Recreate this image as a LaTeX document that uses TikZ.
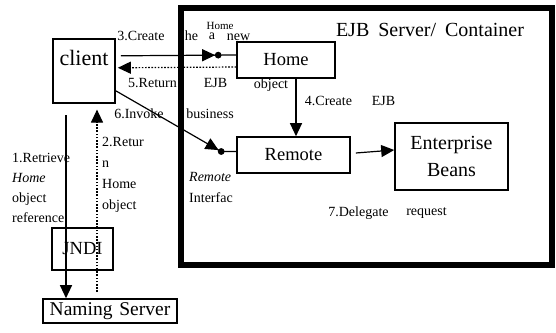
\documentclass[tikz,border=0pt]{standalone}
\usepackage{fontspec}
\setmainfont{Liberation Serif}
\usetikzlibrary{arrows.meta,decorations.markings,calc}

\begin{document}
\begin{tikzpicture}[x=1pt,y=-1pt,
  box/.style={draw, line width=1.6pt, inner sep=0pt},
  lbl/.style={font=\fontsize{14}{20.5}\selectfont, inner sep=0pt, align=left},
  conn/.style={line width=1.2pt},
  tip/.style={-{Triangle[length=13pt,width=12pt]}},
  dots/.style={dash pattern=on 1.6pt off 1.6pt},
  headdot/.style 2 args={postaction=decorate, decoration={markings,
      mark=at position #1 with {\arrow{Triangle[length=13pt,width=12pt]}},
      mark=at position #2 with {\fill circle (3.4pt);}}}
]
\useasboundingbox (0,0) rectangle (556,332);

% EJB container
\node[draw, line width=6pt, minimum width=371pt, minimum height=257pt, inner sep=0pt]
  (container) at (366.5,136.5) {};
\node[inner sep=0pt, font=\fontsize{20}{24}\selectfont] (ctitle) at (430,30)
  {EJB\hspace{0.45em}Server/ \hspace{0.2em}Container};

% boxes
\node[box, anchor=north, minimum width=62pt, text height=27pt, text depth=37pt,
  font=\fontsize{22}{26}\selectfont] (client) at (84,38) {client};
\node[box, minimum width=98pt, minimum height=36pt, font=\fontsize{18.5}{22}\selectfont]
  (home) at (286,60) {Home};
\node[box, minimum width=113pt, minimum height=36pt, font=\fontsize{18.5}{22}\selectfont]
  (remote) at (293.5,155) {Remote};
\node[box, minimum width=113pt, minimum height=67pt, align=center,
  font=\fontsize{20}{27}\selectfont] (beans) at (451.5,156.5) {Enterprise\\Beans};
\node[box, minimum width=61pt, minimum height=42pt, font=\fontsize{18.5}{22}\selectfont]
  (jndi) at (82.5,249) {JNDI};
\node[box, minimum width=134pt, minimum height=24pt, font=\fontsize{19.5}{22}\selectfont]
  (naming) at (110,311) {Naming\hspace{0.35em}Server};

% connectors
\draw[conn, headdot={-21pt}{-18pt}]
  ([xshift=5pt,yshift=15pt]client.east) -- ([yshift=5pt]home.west);
\draw[conn, dots, tip, shorten >=2pt]
  ([yshift=-7pt]home.west) -- ([yshift=3pt]client.east);
\coordinate (bend6) at (221,151.5);
\draw[conn, headdot={-18pt}{-15pt}]
  ([yshift=-20pt]client.east) -- (bend6) -- (bend6 -| remote.west);
\coordinate (x4) at ([xshift=10pt]home.south);
\draw[conn, tip] (x4) -- (x4 |- remote.north);
\draw[conn, tip] ([xshift=5pt,yshift=2pt]remote.east) -- ([yshift=6.5pt]beans.west);
\coordinate (r1) at (66,115);
\draw[conn, tip] (r1) -- (r1 |- naming.north);
\coordinate (r2) at (97,292);
\draw[conn, dots, tip, shorten >=6pt] (r2) -- (r2 |- client.south);

% labels
\node[lbl] (l3a) at (141,36) {3.Create};
\node[lbl] (l3b) at (191.5,36) {he};
\node[lbl] (l3c) at (212,36.5) {a};
\node[lbl] (l3d) at (238.5,37) {new};
\begin{scope}
  \clip (195,15) rectangle (250,28.5);
  \node[inner sep=0pt, anchor=base, text height=7pt, text depth=0pt,
    font=\fontsize{11}{13}\selectfont] (l3e) at (220,29.5) {Home};
\end{scope}
\node[lbl] (l5a) at (152.5,83) {5.Return};
\node[lbl] (l5b) at (215.5,83) {EJB};
\node[lbl] (l5c) at (271,85) {object};
\node[lbl] (l6a) at (139,114) {6.Invoke};
\node[lbl] (l6b) at (210,114) {business};
\node[lbl] (l4a) at (328.5,101) {4.Create};
\node[lbl] (l4b) at (383.5,101) {EJB};
\node[lbl] (l7a) at (358.5,213) {7.Delegate};
\node[lbl] (l7b) at (426.5,213) {request};
\node[lbl, anchor=west] (lri) at (189,187.5) {\textit{Remote}\\Interfac};
\node[lbl, anchor=west, font=\fontsize{14}{20}\selectfont] (l1) at (12,188)
  {1.Retrieve\\\textit{Home}\\object\\reference};
\node[lbl, anchor=west, font=\fontsize{14}{21}\selectfont] (l2) at (102,174.5)
  {2.Retur\\n\\Home\\object};
\end{tikzpicture}
\end{document}
